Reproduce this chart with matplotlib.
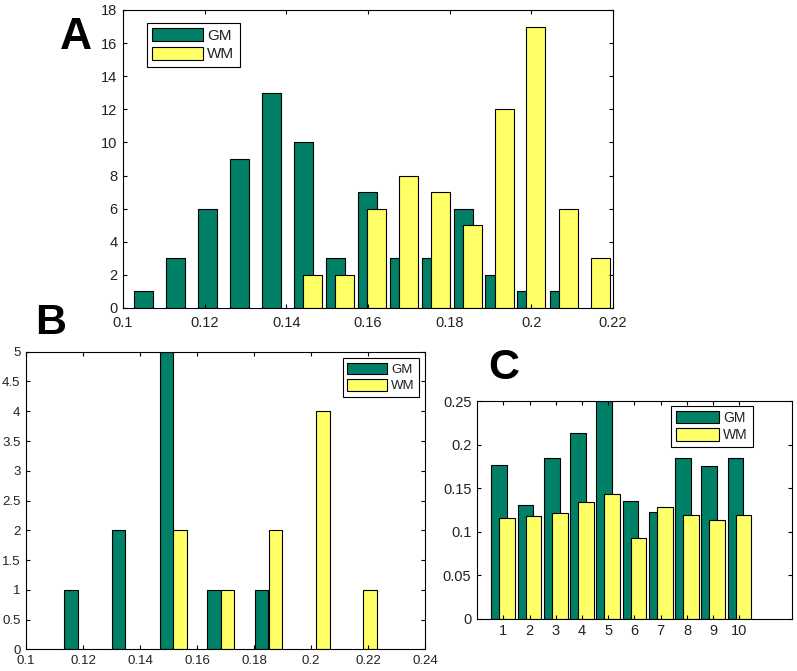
import numpy as np
from matplotlib import pyplot as plt

# MATLAB "summer" colours
GM_COLOR = '#008066'
WM_COLOR = '#ffff66'

# panel A: histogram bin centres and counts
a_gm_x = [0.1051, 0.1129, 0.1207, 0.1286, 0.1364, 0.1443, 0.1521,
          0.1599, 0.1678, 0.1756, 0.1833, 0.1911, 0.1989, 0.2068]
a_gm_counts = [1, 3, 6, 9, 13, 10, 3, 7, 3, 3, 6, 2, 1, 1]
a_wm_x = [0.1464, 0.1543, 0.1621, 0.1700, 0.1778, 0.1856, 0.1934,
          0.2011, 0.2091, 0.2169]
a_wm_counts = [2, 2, 6, 8, 7, 5, 12, 17, 6, 3]

# panel B
b_gm_x = [0.1158, 0.1325, 0.1493, 0.1659, 0.1826]
b_gm_counts = [1, 2, 5, 1, 1]
b_wm_x = [0.1541, 0.1707, 0.1875, 0.2042, 0.2208]
b_wm_counts = [2, 1, 2, 4, 1]

# panel C: per-subject values
c_subjects = [1, 2, 3, 4, 5, 6, 7, 8, 9, 10]
c_gm = [0.177, 0.131, 0.185, 0.213, 0.25, 0.135, 0.123, 0.185, 0.175, 0.185]
c_wm = [0.116, 0.118, 0.121, 0.134, 0.143, 0.093, 0.128, 0.119, 0.113, 0.119]

plt.rcParams['font.family'] = ['Liberation Sans', 'DejaVu Sans']

fig = plt.figure(figsize=(7.97, 6.71), dpi=100)


def style_axes(ax, fontsize=9.5, xpad=4):
    ax.tick_params(direction='in', top=True, right=True, length=3,
                   width=0.8, labelsize=fontsize, pad=4, colors='black',
                   labelcolor='#222222')
    ax.tick_params(axis='x', pad=xpad)
    for s in ax.spines.values():
        s.set_linewidth(0.8)
        s.set_color('black')


def add_legend(ax, anchor, loc, fontsize, hl, hh):
    leg = ax.legend(['GM', 'WM'], loc=loc, bbox_to_anchor=anchor,
                    borderaxespad=0, fontsize=fontsize, handlelength=hl,
                    handleheight=hh, handletextpad=0.3, borderpad=0.35,
                    labelspacing=0.25, fancybox=False, framealpha=1)
    leg.get_frame().set_edgecolor('black')
    leg.get_frame().set_linewidth(0.8)
    for t in leg.get_texts():
        t.set_color('#222222')


# ---- A ----
axA = fig.add_axes([0.1543, 0.5410, 0.6148, 0.4441])
axA.bar(a_gm_x, a_gm_counts, width=0.00465, color=GM_COLOR,
        edgecolor='black', linewidth=0.8)
axA.bar(a_wm_x, a_wm_counts, width=0.00465, color=WM_COLOR,
        edgecolor='black', linewidth=0.8)
axA.set_xlim(0.1, 0.22)
axA.set_ylim(0, 18)
axA.set_xticks([0.1, 0.12, 0.14, 0.16, 0.18, 0.2, 0.22])
axA.set_xticklabels(['0.1', '0.12', '0.14', '0.16', '0.18', '0.2', '0.22'])
axA.set_yticks(range(0, 19, 2))
style_axes(axA, 10.5, xpad=5.5)
add_legend(axA, (0.049, 0.956), 'upper left', 11, 3.3, 0.9)

# ---- B ----
axB = fig.add_axes([0.0326, 0.0323, 0.5006, 0.4435])
axB.bar(b_gm_x, b_gm_counts, width=0.0048, color=GM_COLOR,
        edgecolor='black', linewidth=0.8)
axB.bar(b_wm_x, b_wm_counts, width=0.0048, color=WM_COLOR,
        edgecolor='black', linewidth=0.8)
axB.set_xlim(0.1, 0.24)
axB.set_ylim(0, 5)
axB.set_xticks([0.1, 0.12, 0.14, 0.16, 0.18, 0.2, 0.22, 0.24])
axB.set_xticklabels(['0.1', '0.12', '0.14', '0.16', '0.18', '0.2', '0.22', '0.24'])
axB.set_yticks(np.arange(0, 5.01, 0.5))
axB.set_yticklabels(['0', '0.5', '1', '1.5', '2', '2.5', '3', '3.5', '4', '4.5', '5'])
style_axes(axB, 9.5)
add_legend(axB, (0.9857, 0.979), 'upper right', 9.5, 3.0, 0.95)

# ---- C ----
axC = fig.add_axes([0.5985, 0.0779, 0.3952, 0.3244])
xs = np.array(c_subjects)
axC.bar(xs - 0.15, c_gm, width=0.6, color=GM_COLOR, edgecolor='black',
        linewidth=0.8)
axC.bar(xs + 0.15, c_wm, width=0.6, color=WM_COLOR, edgecolor='black',
        linewidth=0.8)
axC.set_xlim(0, 12)
axC.set_ylim(0, 0.25)
axC.set_xticks(c_subjects)
axC.set_yticks([0, 0.05, 0.1, 0.15, 0.2, 0.25])
axC.set_yticklabels(['0', '0.05', '0.1', '0.15', '0.2', '0.25'])
style_axes(axC, 10.5)
add_legend(axC, (0.876, 0.978), 'upper right', 10, 3.1, 1.0)

# panel letters
fig.text(76 / 797, 1 - 37.5 / 671, 'A', fontsize=32, fontweight='bold',
         ha='center', va='center')
fig.text(51 / 797, 1 - 323 / 671, 'B', fontsize=31, fontweight='bold',
         ha='center', va='center')
fig.text(503.5 / 797, 1 - 368 / 671, 'C', fontsize=31, fontweight='bold',
         ha='center', va='center')

fig.savefig('out.png', dpi=100)
